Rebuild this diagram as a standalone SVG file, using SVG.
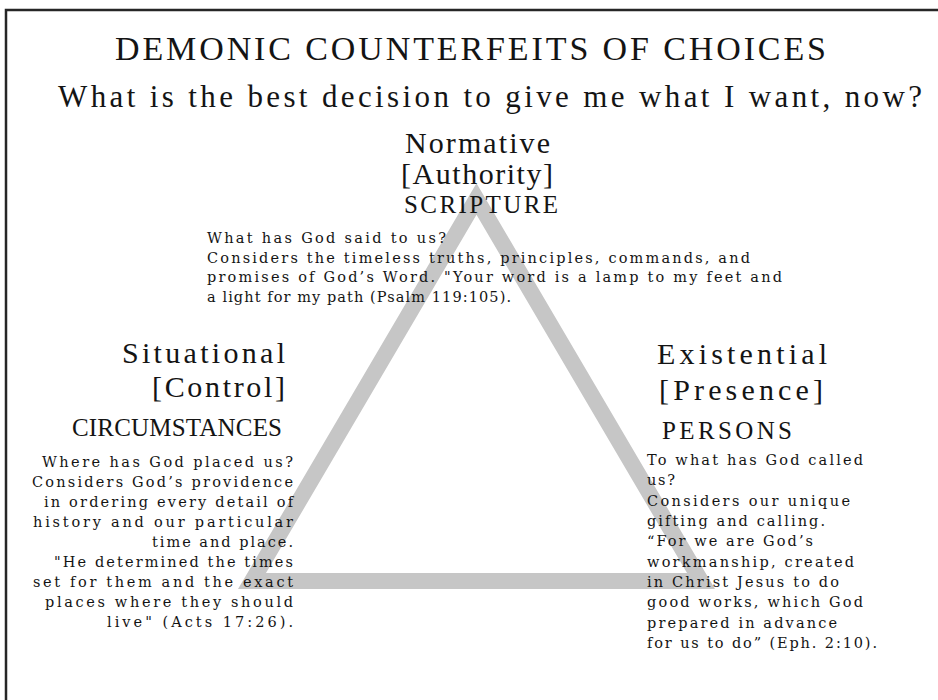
<svg xmlns="http://www.w3.org/2000/svg" width="938" height="700" viewBox="0 0 938 700">
<style>
text{font-family:"Liberation Serif","DejaVu Serif",serif;fill:#141414}
.title{font-size:34px}
.sub{font-size:31px}
.h1{font-size:30px}
.h2{font-size:25px}
.p{font-family:"DejaVu Serif","Liberation Serif",serif;font-size:14.5px}
</style>
<rect x="0" y="0" width="938" height="700" fill="#ffffff"/>
<rect x="6" y="10" width="1000" height="1000" fill="none" stroke="#262626" stroke-width="2.5"/>
<g id="connectors">
<polygon points="476.5,199 252,581 701,581" fill="none" stroke="#c6c6c6" stroke-width="16" stroke-linejoin="miter"/>
</g>
<g id="header">
<text class="title" x="115" y="60" textLength="711" lengthAdjust="spacing">DEMONIC COUNTERFEITS OF CHOICES</text>
<text class="sub" x="58" y="107" textLength="864" lengthAdjust="spacing">What is the best decision to give me what I want, now?</text>
</g>
<g id="normative">
<text class="h1" x="405" y="153" textLength="145" lengthAdjust="spacing">Normative</text>
<text class="h1" x="401" y="184" textLength="152" lengthAdjust="spacing">[Authority]</text>
<text class="h2" x="404" y="213" textLength="154" lengthAdjust="spacing">SCRIPTURE</text>
<text class="p" x="207" y="243" textLength="239" lengthAdjust="spacing">What has God said to us?</text>
<text class="p" x="207" y="262.5" textLength="543" lengthAdjust="spacing">Considers the timeless truths, principles, commands, and</text>
<text class="p" x="207" y="282" textLength="575" lengthAdjust="spacing">promises of God’s Word. "Your word is a lamp to my feet and</text>
<text class="p" x="207" y="301.5" textLength="304" lengthAdjust="spacing">a light for my path (Psalm 119:105).</text>
</g>
<g id="situational">
<text class="h1" x="122" y="363" textLength="163" lengthAdjust="spacing">Situational</text>
<text class="h1" x="152" y="397" textLength="133" lengthAdjust="spacing">[Control]</text>
<text class="h2" x="72" y="436" textLength="210" lengthAdjust="spacing">CIRCUMSTANCES</text>
<text class="p" x="42" y="467" textLength="251" lengthAdjust="spacing">Where has God placed us?</text>
<text class="p" x="32" y="487" textLength="261" lengthAdjust="spacing">Considers God’s providence</text>
<text class="p" x="44" y="507" textLength="249" lengthAdjust="spacing">in ordering every detail of</text>
<text class="p" x="33" y="527" textLength="260" lengthAdjust="spacing">history and our particular</text>
<text class="p" x="152" y="547" textLength="141" lengthAdjust="spacing">time and place.</text>
<text class="p" x="54" y="567" textLength="239" lengthAdjust="spacing">"He determined the times</text>
<text class="p" x="33" y="587" textLength="260" lengthAdjust="spacing">set for them and the exact</text>
<text class="p" x="45" y="607" textLength="248" lengthAdjust="spacing">places where they should</text>
<text class="p" x="107" y="627" textLength="186" lengthAdjust="spacing">live" (Acts 17:26).</text>
</g>
<g id="existential">
<text class="h1" x="657" y="364" textLength="170" lengthAdjust="spacing">Existential</text>
<text class="h1" x="659" y="400" textLength="164" lengthAdjust="spacing">[Presence]</text>
<text class="h2" x="662" y="439" textLength="130" lengthAdjust="spacing">PERSONS</text>
<text class="p" x="647" y="465" textLength="216" lengthAdjust="spacing">To what has God called</text>
<text class="p" x="647" y="485.3" textLength="28" lengthAdjust="spacing">us?</text>
<text class="p" x="647" y="505.6" textLength="203" lengthAdjust="spacing">Considers our unique</text>
<text class="p" x="647" y="526" textLength="178" lengthAdjust="spacing">gifting and calling.</text>
<text class="p" x="647" y="546.3" textLength="166" lengthAdjust="spacing">“For we are God’s</text>
<text class="p" x="647" y="566.6" textLength="207" lengthAdjust="spacing">workmanship, created</text>
<text class="p" x="647" y="587" textLength="192" lengthAdjust="spacing">in Christ Jesus to do</text>
<text class="p" x="647" y="607.3" textLength="216" lengthAdjust="spacing">good works, which God</text>
<text class="p" x="647" y="627.6" textLength="190" lengthAdjust="spacing">prepared in advance</text>
<text class="p" x="647" y="648" textLength="230" lengthAdjust="spacing">for us to do” (Eph. 2:10).</text>
</g>
</svg>
